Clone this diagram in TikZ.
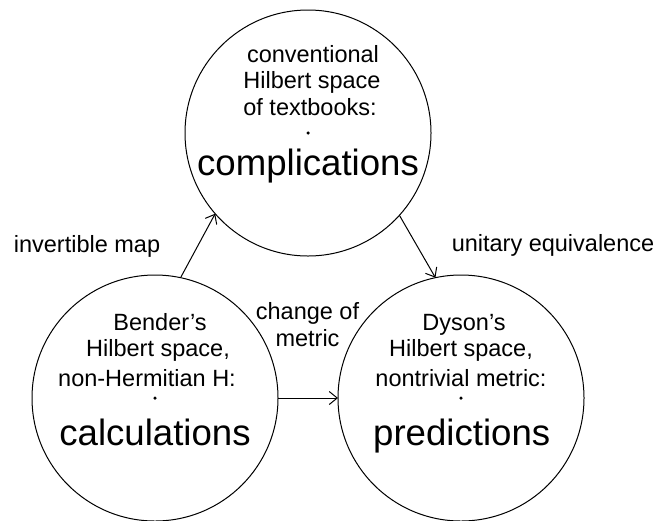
\documentclass[tikz,border=0pt]{standalone}
\usepackage{fontspec}
\setmainfont{Liberation Sans}
\usetikzlibrary{arrows.meta}
\begin{document}
\begin{tikzpicture}[x=1pt,y=-1pt,
  space/.style={circle,draw,line width=1pt,minimum size=246pt,inner sep=0pt,outer sep=0pt},
  txt/.style={anchor=base,inner sep=0pt,font=\fontsize{23.5}{28}\selectfont},
  big/.style={anchor=base,inner sep=0pt,font=\fontsize{36.6}{40}\selectfont},
  ctr/.style={circle,fill,inner sep=0pt,minimum size=3.5pt},
  arr/.style={line width=1pt,-{Straight Barb[length=8pt,width=13pt]}}]
\useasboundingbox (0,0) rectangle (660,520);
% circles
\node[space] (top) at (308,133) {};
\node[space] (left) at (155,398) {};
\node[space] (right) at (461,398) {};
\node[ctr] (topdot) at (308,133) {};
\node[ctr] (leftdot) at (155,398) {};
\node[ctr] (rightdot) at (461,398) {};
% top texts
\node[txt] (t1) at (313,62.3) {conventional};
\node[txt] (t2) at (312,88.5) {Hilbert space};
\node[txt] (t3) at (310,115) {of textbooks:};
\node[big] (t4) at (308,175) {complications};
% left texts
\node[txt] (l1) at (160,330) {Bender’s};
\node[txt] (l2) at (158,356.7) {Hilbert space,};
\node[txt] (l3) at (147,386) {non-Hermitian H:};
\node[big] (l4) at (155,445) {calculations};
% right texts
\node[txt] (r1) at (464,330) {Dyson’s};
\node[txt] (r2) at (461,356.7) {Hilbert space,};
\node[txt] (r3) at (461,386) {nontrivial metric:};
\node[big] (r4) at (461.7,445) {predictions};
% connectors
\draw[arr] (left.78.8) -- (top.221.7);
\draw[arr] (top.318.5) -- (right.102);
\draw[arr] (left.east) -- (right.west);
% labels
\node[txt] (lab1) at (87,252) {invertible map};
\node[txt] (lab2) at (553,251) {unitary equivalence};
\node[txt] (lab3) at (307.5,319) {change of};
\node[txt] (lab4) at (307.5,346) {metric};
\end{tikzpicture}
\end{document}
